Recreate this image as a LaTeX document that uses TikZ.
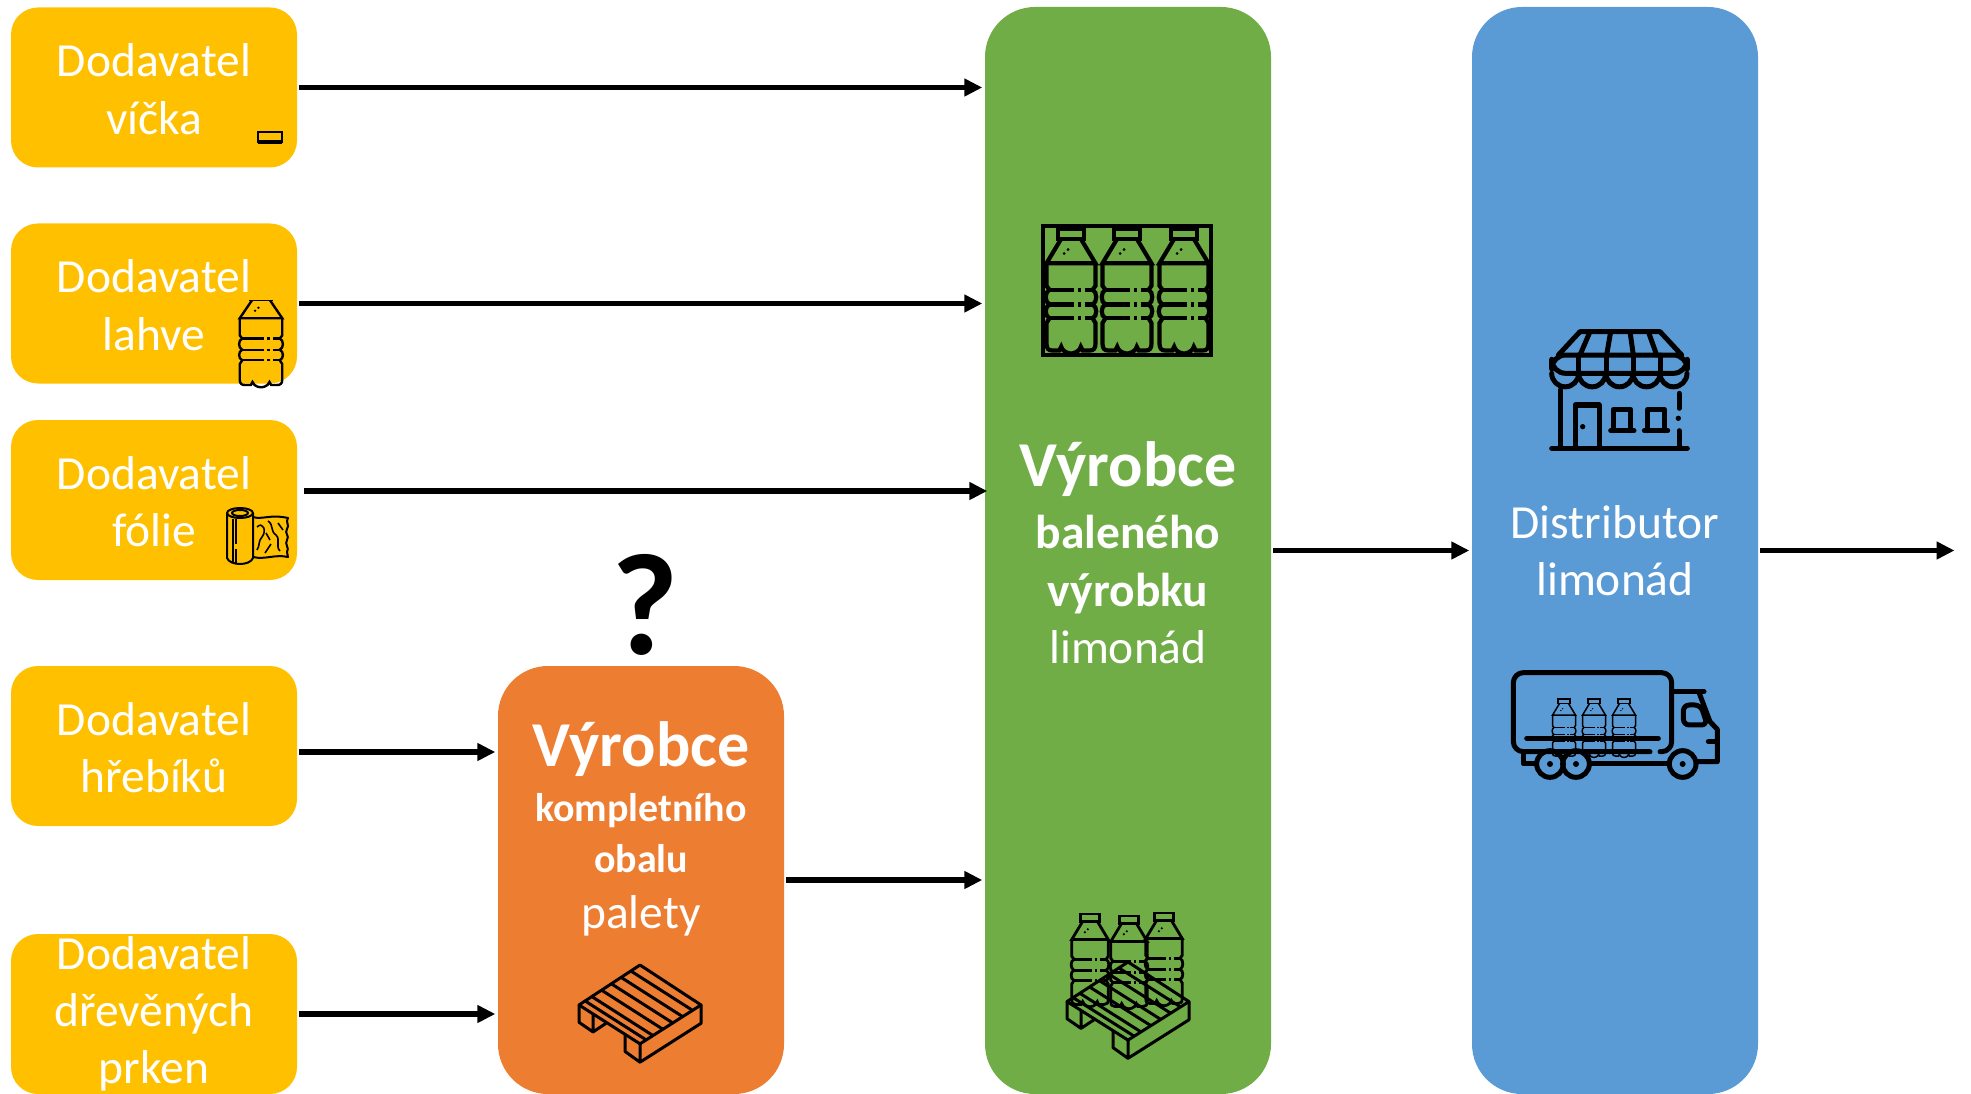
\documentclass[tikz,border=0pt]{standalone}
\usepackage{fontspec}
\setmainfont{Carlito}
\usetikzlibrary{arrows.meta,positioning}

\definecolor{supplycol}{HTML}{FFC000}
\definecolor{packcol}{HTML}{ED7D31}
\definecolor{makercol}{HTML}{70AD47}
\definecolor{distcol}{HTML}{5B9BD5}

\tikzset{
   supplier/.style={fill=supplycol, rounded corners=27pt, minimum width=286pt,
                    minimum height=160pt, inner sep=0pt, text=white, align=center,
                    text height=93.5pt, font=\fontsize{47.5}{57.5}\selectfont},
   tallbox/.style={rounded corners=50pt, minimum width=286pt, inner sep=0pt,
                   text=white, align=center, font=\fontsize{47.5}{57.5}\selectfont},
   boxtext/.style={inner sep=0pt, text=white, align=center,
                   font=\fontsize{47.5}{57.5}\selectfont},
   flow/.style={-{Triangle[length=18pt,width=17pt]}, line width=5.5pt,
                shorten <=2pt, shorten >=2.5pt},
   bottle/.pic={
      \draw (-13,0) rectangle (13,10);
      \draw (-10,10) -- (-25,35) -- (25,35) -- (10,10);
      \fill (-7,25) circle (1.6) (-3,21) circle (1.6);
      \foreach \s in {1,-1}
         \draw[xscale=\s] (25,35) -- (25,58) -- (22,62)
            .. controls (27,64) and (27,75) .. (22,77)
            .. controls (27,79) and (27,89) .. (22,91)
            -- (25,96) -- (25,117) .. controls (25,122) and (23,124) .. (19,124)
            -- (12,124) -- (10,120) .. controls (8,127) and (0,127) .. (0,127);
      \foreach \y in {62,77,91}
         \draw (-22,\y) -- (3,\y) (7,\y) -- (10,\y) (14,\y) -- (22,\y);
   },
   pallet/.pic={
      \draw[line join=round] (0,0) -- (-61,37) -- (0,73) -- (61,37) -- cycle;
      \draw[line join=round] (-61,37) -- (-61,53) -- (-47,62) -- (-47,46)
         (-47,62) -- (-34,54)
         (0,73) -- (0,90) -- (61,54) -- (61,37)
         (-15,64) -- (-15,80) -- (0,90);
      \foreach \t in {.15,.31,.47,.63,.79,.9}
         \draw ({-61*\t},{37*\t}) -- ({61-61*\t},{36+37*\t});
   },
}

\begin{document}
\begin{tikzpicture}[x=1pt, y=-1pt]
   \useasboundingbox (0,0) rectangle (1971,1094);

   % suppliers
   \node[supplier] (dod_vicka) at (154,87.5) {Dodavatel\\víčka};
   \node[supplier] (dod_lahve) at (154,303.5) {Dodavatel\\lahve};
   \node[supplier] (dod_folie) at (154,500) {Dodavatel\\fólie};
   \node[supplier] (dod_hrebiky) at (154,746) {Dodavatel\\hřebíků};
   \node[supplier] (dod_prkna) at (154,1014) {};
   \node[boxtext, text depth=0pt] (prkna_text) at (154,1010) {Dodavatel\\dřevěných\\prken};

   % big boxes
   \node[tallbox, fill=packcol, minimum height=428pt] (obal) at (641,880) {};
   \node[tallbox, fill=makercol, minimum height=1087pt] (vyrobek) at (1128,550.5) {};
   \node[tallbox, fill=distcol, minimum height=1087pt] (distributor) at (1615,550.5)
      {Distributor\\limonád};

   \node[boxtext] (obal_text) at (641,829) {%
      {\fontsize{64}{63}\selectfont\bfseries Výrobce}\\[-2pt]
      {\fontsize{40}{50}\selectfont\bfseries kompletního}\\[-7pt]
      {\fontsize{40}{50}\selectfont\bfseries obalu}\\[-1pt]
      palety};
   \node[boxtext] (vyrobek_text) at (1128,552.5) {%
      {\fontsize{64}{63}\selectfont\bfseries Výrobce}\\[5pt]
      {\bfseries baleného}\\
      {\bfseries výrobku}\\
      limonád};
   \node[inner sep=0pt, font=\fontsize{145}{145}\selectfont\bfseries] (otaznik) at (645,605) {?};

   \coordinate (konec) at (1957,550.5);
   \coordinate (folie_out) at ([shift={(5pt,9pt)}]dod_folie.east);
   \coordinate (hrebiky_out) at ([yshift=-6pt]dod_hrebiky.east);

   % arrows
   \draw[flow] (dod_vicka.east) -- (dod_vicka.east -| vyrobek.west);
   \draw[flow] (dod_lahve.east) -- (dod_lahve.east -| vyrobek.west);
   \draw[flow] (folie_out) -- ([xshift=5pt]folie_out -| vyrobek.west);
   \draw[flow] (hrebiky_out) -- (hrebiky_out -| obal.west);
   \draw[flow] (dod_prkna.east) -- (dod_prkna.east -| obal.west);
   \draw[flow] (obal.east) -- (obal.east -| vyrobek.west);
   \draw[flow] (vyrobek.east) -- (vyrobek.east -| distributor.west);
   \draw[flow] (distributor.east) -- (konec);

   % cap icon
   \draw[line width=2.5pt] (258,132) rectangle (282,142);
   \draw[line width=4pt] (258,142) -- (282,142);

   % bottle in supplier box
   \begin{scope}
      \clip (230,300) rectangle (290,390);
      \pic[xscale=.85, yscale=.75, line width=2.4pt] at (261,292) {bottle};
   \end{scope}

   % foil roll
   \begin{scope}[line width=2pt, line join=round]
      \draw (240,513) ellipse (13 and 5);
      \draw (240,513) ellipse (8 and 3);
      \draw (227,513) -- (227,558) .. controls (230,566) and (250,566) .. (253,558) -- (253,513);
      \draw (233,519) -- (233,562) (236,519) -- (236,544) (236,549) -- (236,563);
      \draw (253,517) .. controls (262,520) and (270,514) .. (288,518)
         .. controls (285,522) and (290,525) .. (287,529)
         .. controls (284,533) and (290,536) .. (287,540)
         .. controls (284,544) and (290,548) .. (287,552) -- (288,557)
         .. controls (275,554) and (265,560) .. (253,557);
      \draw[line width=1.6pt] (257,527) .. controls (263,521) and (267,531) .. (262,537)
         .. controls (258,541) and (260,546) .. (257,550)
         (268,521) .. controls (274,525) and (270,531) .. (276,535) .. controls (281,540) and (275,546) .. (280,551)
         (271,544) -- (265,553)
         (278,523) -- (283,530)
         (266,533) -- (270,540);
   \end{scope}

   % pallet in orange box
   \pic[yscale=1.08, line width=3pt] at (640,965) {pallet};

   % crate of bottles
   \draw[line width=4.5pt] (1043,226) rectangle (1211,355);
   \foreach \x in {1071,1127,1184}
      \pic[scale=.98, line width=4.2pt] at (\x,229) {bottle};

   % bottles on pallet
   \pic[scale=.73, line width=2.8pt] at (1090,914) {bottle};
   \pic[scale=.73, line width=2.8pt] at (1129,916) {bottle};
   \pic[scale=.73, line width=2.8pt] at (1164,913) {bottle};
   \pic[yscale=1.07, line width=3pt] at (1128,962) {pallet};

   % shop
   \begin{scope}[shift={(1480,310)}, scale=1/3, line width=5pt, line cap=round, line join=round]
      \draw (235,135) -- (300,65) -- (540,65) -- (605,135);
      \draw (300,135) -- (330,65) (380,135) -- (392,65) (460,135) -- (450,65) (530,135) -- (505,65);
      \draw[rounded corners=14pt] (215,190) -- (215,135) -- (622,135) -- (622,190) -- cycle;
      \foreach \x in {215,296,378,459,540}
         \draw (\x,190) arc[start angle=180, end angle=0, radius=40.5];
      \foreach \x in {296,378,459,540}
         \draw (\x,135) -- (\x,190);
      \draw (240,240) -- (240,415) (597,250) -- (597,295) (597,362) -- (597,415);
      \draw (215,415) -- (622,415);
      \draw (285,415) -- (285,285) -- (357,285) -- (357,415);
      \draw (400,362) -- (400,298) -- (452,298) -- (452,362);
      \draw (503,362) -- (503,298) -- (553,298) -- (553,362);
      \draw (392,362) -- (462,362) (493,362) -- (563,362);
      \fill (308,350) circle (8) (595,325) circle (8);
   \end{scope}

   % truck
   \begin{scope}[shift={(1480,310)}, scale=1/3, line width=5pt, line cap=round, line join=round]
      \draw[rounded corners=10pt] (510,1325) -- (100,1325) -- (100,1088) -- (575,1088) -- (575,1325) -- (540,1325);
      \draw (140,1285) -- (535,1285);
      \draw (130,1330) -- (130,1362) -- (165,1362) (330,1362) -- (565,1362);
      \foreach \x in {210,288,608} {
         \draw (\x,1362) circle (40);
         \fill (\x,1362) circle (9);
      }
      \draw (575,1145) -- (672,1145);
      \draw (658,1150) -- (690,1235) -- (712,1258) -- (712,1355) -- (655,1355);
      \draw[rounded corners=6pt] (610,1185) -- (662,1185) -- (682,1245) -- (610,1245) -- cycle;
      \draw (685,1295) -- (710,1295);
   \end{scope}
   \foreach \x in {1564,1594,1624}
      \pic[scale=.46, line width=1.5pt] at (\x,699) {bottle};
\end{tikzpicture}
\end{document}
